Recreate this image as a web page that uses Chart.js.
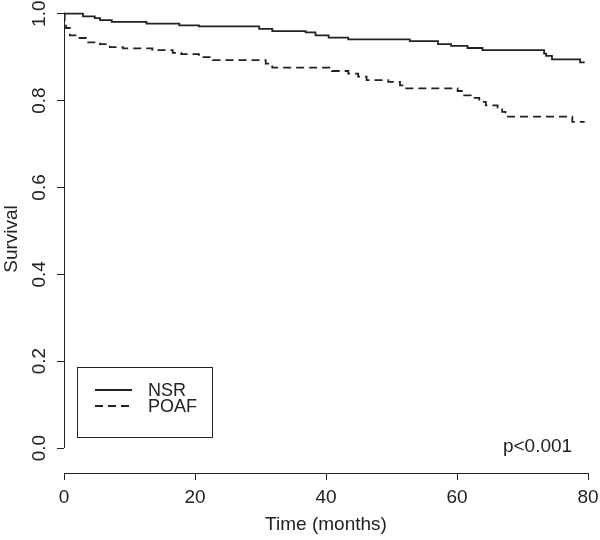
<!DOCTYPE html>
<html>
<head>
<meta charset="utf-8">
<script src="https://cdn.jsdelivr.net/npm/chart.js@4.4.1/dist/chart.umd.min.js"></script>
<style>
  body { margin: 0; background: #fff; }
  #wrap { width: 600px; height: 540px; }
</style>
</head>
<body>
<div id="wrap"><canvas id="kmChart" width="600" height="540"></canvas></div>
<script>
// Kaplan-Meier steps (time in months, survival)
const nsrTime = [0, 2.9, 4.7, 5.5, 7.3, 12.6, 17.6, 20.6, 29.8, 31.8, 36.9, 38.4, 40.4, 43.4, 52.8, 57.1, 59.1, 61.6, 63.9, 73.3, 73.6, 74.5, 78.8, 79.5];
const nsrSurv = [1.0, 0.994, 0.990, 0.985, 0.981, 0.977, 0.973, 0.971, 0.965, 0.960, 0.957, 0.950, 0.945, 0.941, 0.937, 0.930, 0.926, 0.921, 0.916, 0.908, 0.903, 0.895, 0.888, 0.888];

const poafTime = [0, 0.1, 0.3, 0.9, 2.1, 3.5, 5.5, 7.0, 9.0, 13.5, 16.6, 17.9, 20.6, 22.7, 30.8, 31.8, 40.9, 43.4, 44.9, 46.2, 49.5, 51.3, 52.0, 60.1, 61.1, 62.1, 63.4, 64.4, 66.2, 66.9, 67.4, 77.6, 79.5];
const poafSurv = [1.0, 0.977, 0.967, 0.950, 0.944, 0.934, 0.930, 0.923, 0.920, 0.916, 0.910, 0.907, 0.900, 0.893, 0.885, 0.876, 0.868, 0.862, 0.855, 0.847, 0.843, 0.835, 0.828, 0.822, 0.812, 0.806, 0.797, 0.789, 0.784, 0.774, 0.763, 0.751, 0.751];

const seriesNames = ['NSR', 'POAF'];
const xTicks = [0, 20, 40, 60, 80];
const yTicks = [0, 0.2, 0.4, 0.6, 0.8, 1.0];
const yTickLabels = ['0.0', '0.2', '0.4', '0.6', '0.8', '1.0'];
const pValueText = 'p<0.001';

const FONT = '"Liberation Sans", Arial, Helvetica, sans-serif';
const INK = '#222';

function toPoints(t, s) {
    return t.map((v, i) => ({ x: v, y: s[i] }));
}

// R style extras: partial y axis line, rotated y labels, boxed legend, p value
const rStyle = {
    id: 'rStyle',
    afterDraw(chart) {
        const ctx = chart.ctx;
        const xs = chart.scales.x;
        const ys = chart.scales.y;
        const left = chart.chartArea.left;
        ctx.save();
        ctx.strokeStyle = INK;
        ctx.lineWidth = 1;
        ctx.beginPath();
        ctx.moveTo(left + 0.5, ys.getPixelForValue(yTicks[0]));
        ctx.lineTo(left + 0.5, ys.getPixelForValue(yTicks[yTicks.length - 1]));
        ctx.stroke();

        ctx.fillStyle = INK;
        ctx.font = '19px ' + FONT;
        ctx.textAlign = 'center';
        ctx.textBaseline = 'middle';
        yTicks.forEach((v, i) => {
            ctx.save();
            ctx.translate(40, ys.getPixelForValue(v));
            ctx.rotate(-Math.PI / 2);
            ctx.fillText(yTickLabels[i], 0, 0);
            ctx.restore();
        });

        // p value
        ctx.fillText(pValueText, xs.getPixelForValue(72.3), ys.getPixelForValue(0.004));

        // legend
        const bx = 77, by = 367, bw = 135, bh = 70;
        ctx.lineWidth = 1;
        ctx.strokeRect(bx + 0.5, by + 0.5, bw, bh);
        ctx.font = '18px ' + FONT;
        ctx.textAlign = 'left';
        chart.data.datasets.forEach((ds, i) => {
            const yy = 390 + i * 16;
            ctx.save();
            ctx.lineWidth = ds.borderWidth;
            ctx.setLineDash(ds.borderDash || []);
            ctx.beginPath();
            ctx.moveTo(95, yy);
            ctx.lineTo(132, yy);
            ctx.stroke();
            ctx.restore();
            ctx.fillText(ds.label, 148, yy + 1);
        });
        ctx.restore();
    }
};

new Chart(document.getElementById('kmChart'), {
    type: 'line',
    data: {
        datasets: [{
            label: seriesNames[0],
            data: toPoints(nsrTime, nsrSurv),
            borderColor: INK,
            borderWidth: 1.8,
            stepped: true,
            pointRadius: 0,
            fill: false
        }, {
            label: seriesNames[1],
            data: toPoints(poafTime, poafSurv),
            borderColor: INK,
            borderWidth: 1.8,
            borderDash: [8, 5],
            stepped: true,
            pointRadius: 0,
            fill: false
        }]
    },
    options: {
        responsive: false,
        animation: false,
        devicePixelRatio: 1,
        layout: { padding: { top: 5, right: 12, left: 0, bottom: 0 } },
        plugins: {
            legend: { display: false },
            tooltip: { enabled: false }
        },
        scales: {
            x: {
                type: 'linear',
                min: 0,
                max: 80,
                afterBuildTicks: s => { s.ticks = xTicks.map(v => ({ value: v })); },
                afterFit: s => { s.height = 67; s.paddingLeft = 0; s.paddingRight = 0; },
                grid: { drawOnChartArea: false, drawTicks: true, tickLength: 7, color: INK },
                border: { display: true, color: INK, width: 1 },
                ticks: { color: INK, padding: 6, maxRotation: 0, font: { family: FONT, size: 19 } },
                title: { display: true, text: 'Time (months)', color: INK, padding: { top: 2, bottom: 4 }, font: { family: FONT, size: 19 } }
            },
            y: {
                type: 'linear',
                min: -0.0575,
                max: 1.02,
                afterBuildTicks: s => { s.ticks = yTicks.map(v => ({ value: v })); },
                afterFit: s => { s.width = 64; },
                grid: { drawOnChartArea: false, drawTicks: true, tickLength: 7, color: INK },
                border: { display: false },
                ticks: { display: false },
                title: { display: true, text: 'Survival', color: INK, padding: { top: 0, bottom: 0 }, font: { family: FONT, size: 19 } }
            }
        }
    },
    plugins: [rStyle]
});
</script>
</body>
</html>
